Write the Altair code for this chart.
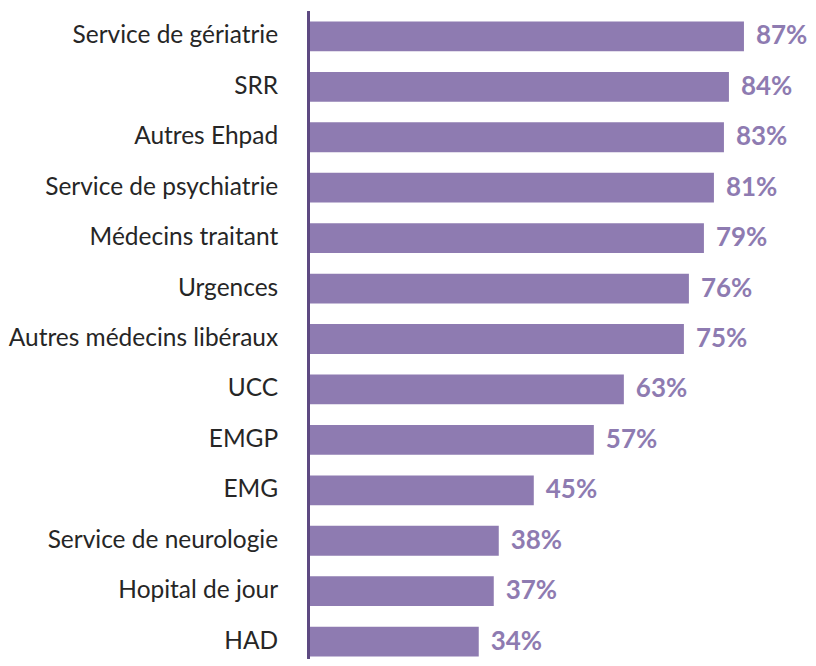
import altair as alt
import pandas as pd

categories = ["Service de gériatrie", "SRR", "Autres Ehpad", "Service de psychiatrie",
              "Médecins traitant", "Urgences", "Autres médecins libéraux", "UCC",
              "EMGP", "EMG", "Service de neurologie", "Hopital de jour", "HAD"]
values = [87, 84, 83, 81, 79, 76, 75, 63, 57, 45, 38, 37, 34]
labels = [f"{v}%" for v in values]

df = pd.DataFrame({"cat": categories, "val": values, "lab": labels})

BAR = "#8e7bb1"
AXIS = "#5e4a82"

y = alt.Y("cat:N", sort=categories, title=None,
          scale=alt.Scale(range=[0, 656], paddingInner=0.41, paddingOuter=0.2),
          axis=alt.Axis(domain=False, ticks=False, labelFont="Lato", labelFontSize=24.5,
                        labelColor="#262626", labelPadding=31, labelLimit=400))
x = alt.X("val:Q", title=None, scale=alt.Scale(domain=[0, 100], range=[0, 501], nice=False),
          axis=None)

bars = alt.Chart(df).mark_bar(color=BAR).encode(x=x, y=y)
text = alt.Chart(df).mark_text(align="left", baseline="middle", dx=12, font="Lato",
                               fontSize=26, fontWeight="bold", color=BAR).encode(
    x=x, y=y, text="lab:N")
rule = alt.Chart(df).mark_rule(color=AXIS, strokeWidth=2).encode(
    x=alt.value(0), y=alt.value(0), y2=alt.value(648))

chart = (bars + text + rule).properties(
    width=430, height=648,
    padding={"top": 2, "bottom": 0, "left": 0, "right": 0}
).configure_view(stroke=None)

chart.save("out.html", embed_options={"renderer": "svg", "actions": False})
